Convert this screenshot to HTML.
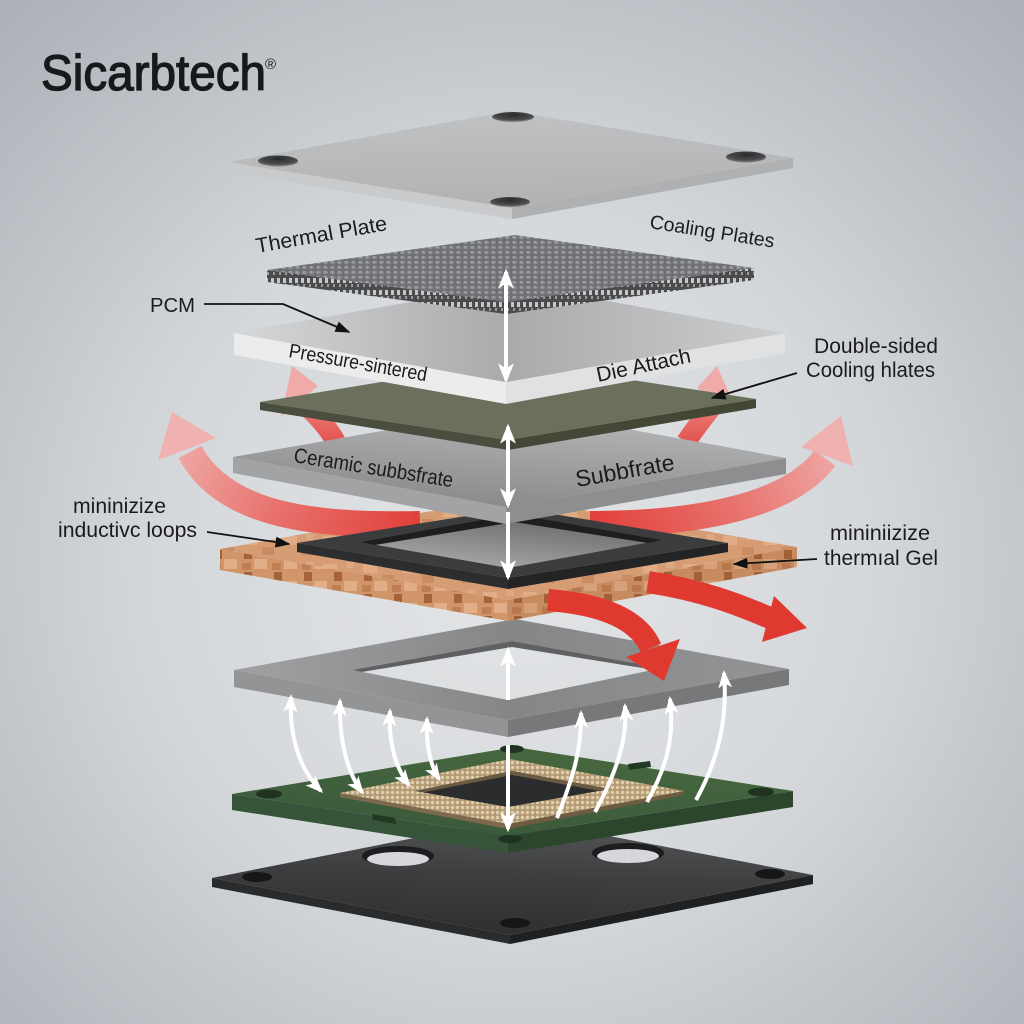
<!DOCTYPE html>
<html><head><meta charset="utf-8"><style>
html,body{margin:0;padding:0;width:1024px;height:1024px;overflow:hidden;background:#d0d3d7}
svg{display:block}
text{font-family:"Liberation Sans",Arial,sans-serif;fill:#1b1b1c}
</style></head><body>
<svg width="1024" height="1024" viewBox="0 0 1024 1024" xmlns="http://www.w3.org/2000/svg">
<defs>
<radialGradient id="bg" gradientUnits="userSpaceOnUse" cx="512" cy="560" r="780">
<stop offset="0" stop-color="#e3e5e7"/><stop offset="0.45" stop-color="#d5d8db"/><stop offset="1" stop-color="#a9aeb5"/>
</radialGradient>
<linearGradient id="tpTop" gradientUnits="userSpaceOnUse" x1="510" y1="111" x2="512" y2="208">
<stop offset="0" stop-color="#bfc1c3"/><stop offset="1" stop-color="#b0b2b4"/></linearGradient>
<radialGradient id="holeG" cx="0.5" cy="0.3" r="0.7"><stop offset="0" stop-color="#2a2b2d"/><stop offset="0.7" stop-color="#4a4c4e"/><stop offset="1" stop-color="#8a8c8e"/></radialGradient>
<pattern id="meshP" width="7" height="5" patternUnits="userSpaceOnUse">
<rect width="7" height="5" fill="#6e7073"/><ellipse cx="3.5" cy="2.5" rx="2.6" ry="1.7" fill="#8a8c8f"/><circle cx="3" cy="2" r="0.9" fill="#a9abad"/></pattern>
<pattern id="meshS" width="6" height="12" patternUnits="userSpaceOnUse">
<rect width="6" height="12" fill="#4a4b4d"/><rect x="1" y="2" width="3" height="5" fill="#c6c7c9"/><rect x="3" y="8" width="2" height="3" fill="#9a9b9d"/></pattern>
<linearGradient id="pcmTop" gradientUnits="userSpaceOnUse" x1="234" y1="0" x2="785" y2="0">
<stop offset="0" stop-color="#d6d7d8"/><stop offset="0.5" stop-color="#a9aaac"/><stop offset="1" stop-color="#cdcecf"/></linearGradient>
<linearGradient id="cerTop" gradientUnits="userSpaceOnUse" x1="513" y1="408" x2="506" y2="507">
<stop offset="0" stop-color="#b5b6b8"/><stop offset="1" stop-color="#8a8b8d"/></linearGradient>
<pattern id="cuTop" width="40" height="28" patternUnits="userSpaceOnUse">
<rect width="40" height="28" fill="#d69d74"/><rect x="3" y="4" width="14" height="9" fill="#e0ad87"/><rect x="22" y="15" width="12" height="8" fill="#c98c62"/><rect x="26" y="2" width="8" height="6" fill="#dcaa82"/></pattern>
<pattern id="cuSide" width="30" height="22" patternUnits="userSpaceOnUse">
<rect width="30" height="22" fill="#d09569"/><rect x="4" y="0" width="8" height="9" fill="#a5633a"/><rect x="14" y="9" width="13" height="10" fill="#e1ae87"/><rect x="2" y="13" width="9" height="7" fill="#bf7f54"/></pattern>
<linearGradient id="gfTop" gradientUnits="userSpaceOnUse" x1="234" y1="0" x2="789" y2="0">
<stop offset="0" stop-color="#a0a1a3"/><stop offset="0.5" stop-color="#858688"/><stop offset="1" stop-color="#939496"/></linearGradient>
<linearGradient id="pcbTop" gradientUnits="userSpaceOnUse" x1="515" y1="747" x2="508" y2="836">
<stop offset="0" stop-color="#46673f"/><stop offset="1" stop-color="#3a5a3b"/></linearGradient>
<pattern id="tanP" width="5" height="5" patternUnits="userSpaceOnUse">
<rect width="5" height="5" fill="#b39a74"/><circle cx="2.5" cy="2.5" r="1.7" fill="#e0ceac"/></pattern>
<linearGradient id="bpTop" gradientUnits="userSpaceOnUse" x1="515" y1="818" x2="510" y2="935">
<stop offset="0" stop-color="#545557"/><stop offset="0.5" stop-color="#3d3e40"/><stop offset="1" stop-color="#2e2f31"/></linearGradient>
<linearGradient id="bfHole" gradientUnits="userSpaceOnUse" x1="514" y1="514" x2="508" y2="568">
<stop offset="0" stop-color="#6a6b6d"/><stop offset="1" stop-color="#a2a3a5"/></linearGradient>
<linearGradient id="rL" gradientUnits="userSpaceOnUse" x1="420" y1="524" x2="172" y2="412">
<stop offset="0" stop-color="#e23f3a"/><stop offset="0.5" stop-color="#e8716c"/><stop offset="1" stop-color="#f0b2b0"/></linearGradient>
<linearGradient id="rR" gradientUnits="userSpaceOnUse" x1="590" y1="524" x2="841" y2="416">
<stop offset="0" stop-color="#e23f3a"/><stop offset="0.5" stop-color="#e8716c"/><stop offset="1" stop-color="#f0b2b0"/></linearGradient>
<linearGradient id="rS" gradientUnits="userSpaceOnUse" x1="0" y1="440" x2="0" y2="366">
<stop offset="0" stop-color="#e45650"/><stop offset="1" stop-color="#f0aaa8"/></linearGradient>
<marker id="wh" viewBox="0 0 12 10" refX="10" refY="5" markerWidth="20" markerHeight="16" markerUnits="userSpaceOnUse" orient="auto-start-reverse" preserveAspectRatio="none">
<path d="M0,0 L12,5 L0,10 L3,5 z" fill="#ffffff"/></marker>
<marker id="wh2" viewBox="0 0 12 10" refX="10" refY="5" markerWidth="18" markerHeight="14" markerUnits="userSpaceOnUse" orient="auto-start-reverse" preserveAspectRatio="none">
<path d="M0,0 L12,5 L0,10 L3,5 z" fill="#ffffff"/></marker>
<marker id="bk" viewBox="0 0 10 8" refX="9" refY="4" markerWidth="15" markerHeight="11" markerUnits="userSpaceOnUse" orient="auto" preserveAspectRatio="none">
<path d="M0,0 L10,4 L0,8 z" fill="#111"/></marker>
</defs>

<rect width="1024" height="1024" fill="url(#bg)"/>

<!-- Bottom black plate -->
<polygon points="212,878 510,935 510,944 212,887" fill="#2a2b2d"/>
<polygon points="510,935 813,875 813,884 510,944" fill="#1f2021"/>
<polygon points="212,878 515,818 813,875 510,935" fill="url(#bpTop)"/>
<ellipse cx="398" cy="856" rx="36" ry="10" fill="#1c1d1e"/>
<ellipse cx="398" cy="859" rx="31" ry="7" fill="#d5d7da"/>
<ellipse cx="628" cy="853" rx="36" ry="10" fill="#1c1d1e"/>
<ellipse cx="628" cy="856" rx="31" ry="7" fill="#d5d7da"/>
<ellipse cx="257" cy="877" rx="15" ry="5" fill="#151617"/>
<ellipse cx="770" cy="874" rx="15" ry="5" fill="#151617"/>
<ellipse cx="515" cy="923" rx="15" ry="5" fill="#151617"/>

<!-- Green PCB -->
<polygon points="232,794 508,836 508,853 232,810" fill="#35543a"/>
<polygon points="508,836 793,791 793,807 508,853" fill="#2c462e"/>
<polygon points="232,794 515,747 793,791 508,836" fill="url(#pcbTop)"/>
<ellipse cx="269" cy="794" rx="13" ry="4.5" fill="#1f3320"/>
<ellipse cx="761" cy="792" rx="13" ry="4.5" fill="#1f3320"/>
<ellipse cx="512" cy="749" rx="12" ry="4" fill="#1f3320"/>
<ellipse cx="510" cy="839" rx="12" ry="4" fill="#1f3320"/>
<polygon points="372,814 395,818 396,824 373,820" fill="#223823"/>
<polygon points="628,764 650,761 651,767 629,770" fill="#223823"/>
<!-- tan mesh frame -->
<polygon points="340,793 508,824 508,829 340,797" fill="#7d6a4e"/>
<polygon points="508,824 684,791 684,795 508,829" fill="#6d5b42"/>
<polygon points="340,793 510,759 684,791 508,824" fill="url(#tanP)"/>
<polygon points="415,791 512,771 610,789 508,807" fill="#2b2c2e"/>
<polygon points="415,791 512,771 610,789 600,791 512,775 425,792" fill="#6b5a42"/>

<!-- Gray frame -->
<polygon points="234,670 508,720 508,737 234,687" fill="#939496"/>
<polygon points="508,720 789,669 789,685 508,737" fill="#77787a"/>
<polygon points="234,670 515,619 789,669 508,720" fill="url(#gfTop)"/>
<polygon points="352,670 512,641 662,668 508,700" fill="url(#bg)"/>
<polygon points="352,670 512,641 662,668 655,670 512,647 362,672" fill="#5f6062"/>

<!-- Copper -->
<polygon points="220,549 508,600 508,621 220,570" fill="url(#cuSide)"/>
<polygon points="508,600 797,547 797,567 508,621" fill="url(#cuSide)"/>
<polygon points="508,600 797,547 797,567 508,621" fill="#8a4a25" opacity="0.12"/>
<polygon points="220,549 509,497 797,547 508,600" fill="url(#cuTop)"/>

<!-- Big red arrows -->
<path d="M420,524 C320,526 225,518 190,452" fill="none" stroke="url(#rL)" stroke-width="26"/>
<polygon points="172,412 158,460 216,438" fill="#f0b2b0"/>
<path d="M590,524 C700,524 790,505 825,458" fill="none" stroke="url(#rR)" stroke-width="26"/>
<polygon points="841,416 801,447 853,466" fill="#f0b2b0"/>

<!-- Black frame -->
<polygon points="297,543 508,578 508,589 297,552" fill="#2c2d2f"/>
<polygon points="508,578 728,543 728,552 508,589" fill="#232425"/>
<polygon points="297,543 517,508 728,543 508,578" fill="#3b3c3e"/>
<polygon points="360,542 514,514 662,540 508,568" fill="url(#bfHole)"/>
<polygon points="360,542 514,514 662,540 648,543 514,522 375,545" fill="#1d1e1f"/>

<!-- Lower red arrows -->
<path d="M548,600 C600,604 638,618 651,648" fill="none" stroke="#e0392f" stroke-width="22"/>
<polygon points="664,681 626,657 680,639" fill="#e0392f"/>
<path d="M648,582 C700,590 735,603 770,618" fill="none" stroke="#e0392f" stroke-width="22"/>
<polygon points="807,628 774,596 762,642" fill="#e0392f"/>

<!-- Small pink arrows -->
<path d="M336,442 C325,422 310,410 300,400" fill="none" stroke="url(#rS)" stroke-width="20"/>
<polygon points="292,366 281,417 318,386" fill="#f0aaa8"/>
<path d="M686,442 C698,424 710,410 717,400" fill="none" stroke="url(#rS)" stroke-width="20"/>
<polygon points="717,366 697,388 738,413" fill="#f0aaa8"/>

<!-- Ceramic substrate -->
<polygon points="233,457 506,507 506,524 233,473" fill="#a2a3a5"/>
<polygon points="506,507 786,458 786,474 506,524" fill="#8d8e90"/>
<polygon points="233,457 513,408 786,458 506,507" fill="url(#cerTop)"/>

<!-- Green die attach -->
<polygon points="260,402 508,440 508,450 260,410" fill="#4a4e3e"/>
<polygon points="508,440 756,399 756,408 508,450" fill="#434736"/>
<polygon points="260,402 508,361 756,399 508,440" fill="#6b705c"/>

<!-- PCM -->
<polygon points="234,333 506,382 506,404 234,355" fill="#ececed"/>
<polygon points="506,382 785,333 785,353 506,404" fill="#e0e1e2"/>
<polygon points="234,333 513,284 785,333 506,382" fill="url(#pcmTop)"/>

<!-- Mesh -->
<polygon points="267,270 506,302 506,314 267,282" fill="url(#meshS)"/>
<polygon points="506,302 754,268 754,280 506,314" fill="url(#meshS)"/>
<polygon points="267,270 515,235 754,268 506,302" fill="url(#meshP)"/>

<!-- Top plate -->
<polygon points="229,162 512,208 512,219 229,172" fill="#c8cacc"/>
<polygon points="512,208 793,158 793,168 512,219" fill="#aeb0b2"/>
<polygon points="229,162 510,111 793,158 512,208" fill="url(#tpTop)"/>
<ellipse cx="278" cy="161" rx="20" ry="5.5" fill="url(#holeG)"/>
<ellipse cx="513" cy="117" rx="21" ry="5" fill="url(#holeG)"/>
<ellipse cx="746" cy="157" rx="20" ry="5.5" fill="url(#holeG)"/>
<ellipse cx="510" cy="202" rx="20" ry="5" fill="url(#holeG)"/>

<!-- White central arrows -->
<g stroke="#ffffff" stroke-width="4" fill="none">
<line x1="506" y1="272" x2="506" y2="380" marker-start="url(#wh)" marker-end="url(#wh)"/>
<line x1="508" y1="427" x2="508" y2="505" marker-start="url(#wh)" marker-end="url(#wh)"/>
<line x1="508" y1="512" x2="508" y2="577" marker-end="url(#wh)"/>
<line x1="508" y1="700" x2="508" y2="650" marker-end="url(#wh)"/>
<line x1="508" y1="745" x2="508" y2="829" marker-end="url(#wh)"/>
<path d="M291,697 C289,737 300,770 321,791" marker-start="url(#wh2)" marker-end="url(#wh2)"/>
<path d="M340,701 C339,745 349,775 362,792" marker-start="url(#wh2)" marker-end="url(#wh2)"/>
<path d="M390,711 C388,745 397,770 409,785" marker-start="url(#wh2)" marker-end="url(#wh2)"/>
<path d="M427,719 C426,745 430,765 439,779" marker-start="url(#wh2)" marker-end="url(#wh2)"/>
<path d="M557,818 C572,780 582,750 581,713" marker-end="url(#wh2)"/>
<path d="M595,812 C615,775 628,740 625,706" marker-end="url(#wh2)"/>
<path d="M647,802 C665,770 675,740 670,699" marker-end="url(#wh2)"/>
<path d="M696,800 C718,760 728,720 724,673" marker-end="url(#wh2)"/>
</g>

<!-- Leader lines -->
<g stroke="#111" stroke-width="1.8" fill="none">
<polyline points="204,304 283,304 349,332" marker-end="url(#bk)"/>
<line x1="797" y1="373" x2="712" y2="398" marker-end="url(#bk)"/>
<line x1="207" y1="532" x2="289" y2="544" marker-end="url(#bk)"/>
<line x1="817" y1="559" x2="734" y2="564" marker-end="url(#bk)"/>
</g>

<!-- Labels -->
<text x="257" y="253" font-size="21" textLength="133" lengthAdjust="spacingAndGlyphs" transform="rotate(-10 257 253)">Thermal Plate</text>
<text x="649" y="228" font-size="19.5" textLength="126" lengthAdjust="spacingAndGlyphs" transform="rotate(9 649 228)">Coaling Plates</text>
<text x="150" y="312" font-size="20" textLength="45" lengthAdjust="spacingAndGlyphs">PCM</text>
<text x="288" y="357" font-size="20" textLength="140" lengthAdjust="spacingAndGlyphs" transform="rotate(10 288 357)">Pressure-sintered</text>
<text x="598" y="382" font-size="21" textLength="96" lengthAdjust="spacingAndGlyphs" transform="rotate(-12 598 382)">Die Attach</text>
<text x="814" y="353" font-size="21" textLength="124" lengthAdjust="spacingAndGlyphs">Double-sided</text>
<text x="806" y="377" font-size="21" textLength="129" lengthAdjust="spacingAndGlyphs">Cooling hlates</text>
<text x="293" y="462" font-size="21" textLength="161" lengthAdjust="spacingAndGlyphs" transform="rotate(9 293 462)">Ceramic subbsfrate</text>
<text x="577" y="487" font-size="23" textLength="100" lengthAdjust="spacingAndGlyphs" transform="rotate(-10 577 487)">Subbfrate</text>
<text x="73" y="513" font-size="21" textLength="93" lengthAdjust="spacingAndGlyphs">mininizize</text>
<text x="58" y="537" font-size="21" textLength="139" lengthAdjust="spacingAndGlyphs">inductivc loops</text>
<text x="830" y="540" font-size="21" textLength="100" lengthAdjust="spacingAndGlyphs">mininiizize</text>
<text x="824" y="565" font-size="21" textLength="114" lengthAdjust="spacingAndGlyphs">thermıal Gel</text>

<!-- Logo -->
<text x="41" y="90" font-size="50" textLength="225" lengthAdjust="spacingAndGlyphs" style="fill:#17191b;stroke:#17191b;stroke-width:1.3">Sicarbtech</text>
<text x="265" y="69" font-size="15" style="fill:#17191b">®</text>
</svg>
</body></html>
